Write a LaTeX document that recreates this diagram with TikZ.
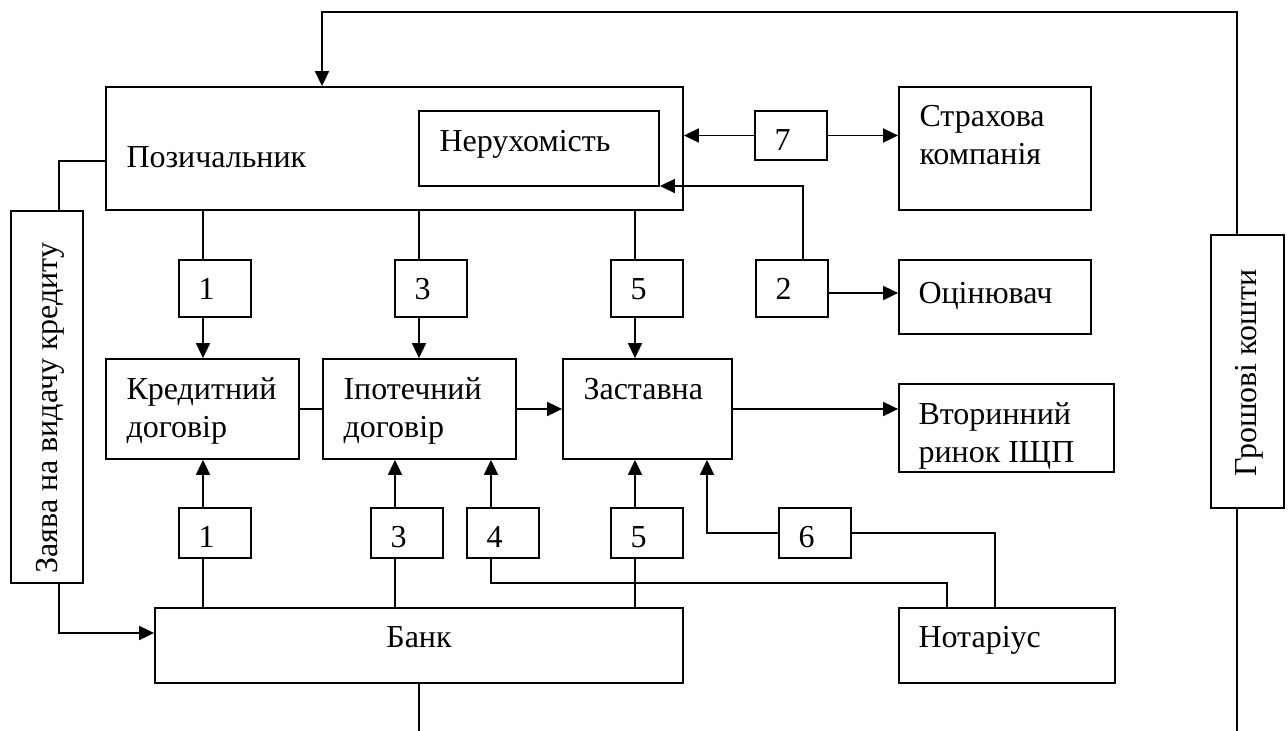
\documentclass[tikz,border=0pt]{standalone}
\usepackage{fontspec}
\setmainfont{Liberation Serif}
\usetikzlibrary{arrows.meta,fit,calc}
\newcommand{\mybox}[5]{\node[boxst, fit={(#2,#3) (#4,#5)}] (#1) {};}
\newcommand{\dg}[2]{\node[txt, anchor=base west] (#1-t) at ($(#1.north west)+(20,40)$) {#2};}
\begin{document}
\begin{tikzpicture}[x=0.5pt,y=-0.5pt,
  boxst/.style={draw, line width=0.9pt, inner sep=0pt},
  txt/.style={font=\fontsize{16pt}{19pt}\selectfont, inner sep=0pt, align=left},
  lnk/.style={line width=0.9pt},
  arr/.style={lnk, -{Triangle[length=7.5pt,width=7pt]}},
]
\useasboundingbox (0,0) rectangle (1288,731);

% boxes
\mybox{poz}{106}{87}{683}{210}
\mybox{ner}{419}{111}{659}{186}
\mybox{str}{899}{87}{1091}{210}
\mybox{b7}{755}{111}{827}{160}
\mybox{u1}{179}{260}{251}{317}
\mybox{u3}{395}{260}{467}{317}
\mybox{u5}{611}{260}{683}{317}
\mybox{u2}{756}{260}{828}{317}
\mybox{oc}{899}{260}{1091}{334}
\mybox{kd}{106}{359}{299}{459}
\mybox{id}{323}{359}{516}{459}
\mybox{za}{563}{359}{732}{459}
\mybox{vr}{899}{384}{1114}{472}
\mybox{l1}{179}{508}{251}{558}
\mybox{l3}{371}{508}{443}{558}
\mybox{l4}{467}{508}{539}{558}
\mybox{l5}{611}{508}{683}{558}
\mybox{l6}{779}{508}{851}{558}
\mybox{bank}{155}{608}{683}{683}
\mybox{not}{899}{608}{1115}{683}
\mybox{zay}{11}{211}{83}{583}
\mybox{gk}{1211}{235}{1284}{508}

% texts
\node[txt, anchor=base west] (poz-t) at ($(poz.north west)+(21,81)$) {Позичальник};
\node[txt, anchor=north west] (ner-t) at ($(ner.north west)+(21,20)$) {Нерухомість};
\node[txt, anchor=north west] (str-t) at ($(str.north west)+(21,19)$) {Страхова\\компанія};
\node[txt, anchor=north west] (oc-t) at ($(oc.north west)+(20,23)$) {Оцінювач};
\node[txt, anchor=north west] (kd-t) at ($(kd.north west)+(21,19)$) {Кредитний\\договір};
\node[txt, anchor=north west] (id-t) at ($(id.north west)+(21,19)$) {Іпотечний\\договір};
\node[txt, anchor=north west] (za-t) at ($(za.north west)+(21,20)$) {Заставна};
\node[txt, anchor=north west] (vr-t) at ($(vr.north west)+(20,19)$) {Вторинний\\ринок ІЩП};
\node[txt, anchor=base] (bank-t) at ($(bank.north)+(0,40)$) {Банк};
\node[txt, anchor=base west] (not-t) at ($(not.north west)+(20,40)$) {Нотаріус};
\node[txt, rotate=90] (zay-t) at (50,408) {Заява на видачу кредиту};
\node[txt, rotate=90] (gk-t) at (1249,373) {Грошові кошти};
\dg{b7}{7}
\dg{u1}{1}
\dg{u3}{3}
\dg{u5}{5}
\dg{u2}{2}
\dg{l1}{1}
\dg{l3}{3}
\dg{l4}{4}
\dg{l5}{5}
\dg{l6}{6}

% helper coordinates
\coordinate (tl) at (322,12);
\coordinate (tr) at (1237,12);
\coordinate (bot) at (0,731);
\coordinate (zx) at (59,161);
\coordinate (zb) at (59,633);
\coordinate (c1) at (203,0);
\coordinate (c3) at (419,0);
\coordinate (c5) at (635,0);
\coordinate (d3) at (395,0);
\coordinate (d4) at (491,0);
\coordinate (n1) at (947,583);
\coordinate (n2) at (995,533);
\coordinate (z6) at (707,533);
\coordinate (n3) at (803,186);
\coordinate (o2) at (0,293);
\coordinate (h) at (0,409);

% connectors
\draw[arr] (tr |- gk.north) -- (tr) -- (tl) -- (tl |- poz.north);
\draw[lnk] (tr |- gk.south) -- (tr |- bot);
\draw[lnk] (poz.west |- zx) -- (zx) -- (zx |- zay.north);
\draw[arr] (zb |- zay.south) -- (zb) -- (zb -| bank.west);

\draw[lnk] (c1 |- poz.south) -- (c1 |- u1.north);
\draw[arr] (c1 |- u1.south) -- (c1 |- kd.north);
\draw[lnk] (c3 |- poz.south) -- (c3 |- u3.north);
\draw[arr] (c3 |- u3.south) -- (c3 |- id.north);
\draw[lnk] (c5 |- poz.south) -- (c5 |- u5.north);
\draw[arr] (c5 |- u5.south) -- (c5 |- za.north);

\draw[lnk] (c1 |- bank.north) -- (c1 |- l1.south);
\draw[arr] (c1 |- l1.north) -- (c1 |- kd.south);
\draw[lnk] (d3 |- bank.north) -- (d3 |- l3.south);
\draw[arr] (d3 |- l3.north) -- (d3 |- id.south);
\draw[arr] (d4 |- l4.north) -- (d4 |- id.south);
\draw[lnk] (d4 |- l4.south) -- (d4 |- n1) -- (n1) -- (n1 |- not.north);
\draw[lnk] (c5 |- bank.north) -- (c5 |- l5.south);
\draw[arr] (c5 |- l5.north) -- (c5 |- za.south);

\draw[lnk] (n2 |- not.north) -- (n2) -- (n2 -| l6.east);
\draw[arr] (l6.west |- z6) -- (z6) -- (z6 |- za.south);

\draw[arr] (n3 |- u2.north) -- (n3) -- (n3 -| ner.east);
\draw[arr] (u2.east |- o2) -- (oc.west |- o2);
\draw[arr] (b7.west) -- (b7.west -| poz.east);
\draw[arr] (b7.east) -- (b7.east -| str.west);

\draw[lnk] (kd.east |- h) -- (id.west |- h);
\draw[arr] (id.east |- h) -- (za.west |- h);
\draw[arr] (za.east |- h) -- (vr.west |- h);
\draw[lnk] (bank.south) -- (bank.south |- bot);
\end{tikzpicture}
\end{document}
